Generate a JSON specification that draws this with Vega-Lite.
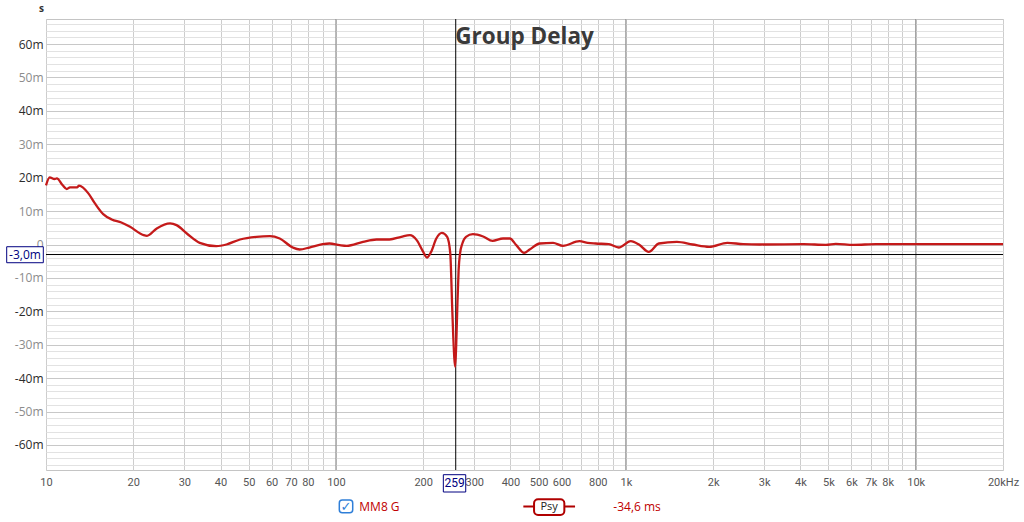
{
  "$schema": "https://vega.github.io/schema/vega-lite/v6.json",
  "width": 957,
  "height": 451,
  "autosize": {"type": "none"},
  "padding": {"left": 46, "top": 19, "right": 21, "bottom": 52},
  "background": "white",
  "title": {"text": "Group Delay", "anchor": "middle", "frame": "group", "offset": -24, "dy": 39, "baseline": "alphabetic", "font": "Open Sans", "fontSize": 22.5, "fontWeight": "bold", "color": "#3a3a3a"},
  "config": {"view": {"stroke": "#c4c4c4", "strokeWidth": 1}, "axis": {"domain": false, "ticks": false}},
  "datasets": {
    "decades": [{"freq": 100}, {"freq": 1000}, {"freq": 10000}],
    "gd": [
      {"freq": 10, "delay_ms": 17.7},
      {"freq": 10.3, "delay_ms": 20.1},
      {"freq": 10.7, "delay_ms": 19.6},
      {"freq": 10.9, "delay_ms": 19.8},
      {"freq": 11.4, "delay_ms": 17.8},
      {"freq": 11.8, "delay_ms": 16.6},
      {"freq": 12.1, "delay_ms": 17.1},
      {"freq": 12.8, "delay_ms": 17.1},
      {"freq": 13.0, "delay_ms": 17.6},
      {"freq": 14.0, "delay_ms": 15.3},
      {"freq": 14.75, "delay_ms": 12.3},
      {"freq": 15.75, "delay_ms": 9.1},
      {"freq": 16.85, "delay_ms": 7.5},
      {"freq": 18.2, "delay_ms": 6.6},
      {"freq": 19.5, "delay_ms": 5.3},
      {"freq": 21.7, "delay_ms": 2.8},
      {"freq": 22.3, "delay_ms": 2.6},
      {"freq": 24.1, "delay_ms": 4.8},
      {"freq": 26.8, "delay_ms": 6.3},
      {"freq": 28.2, "delay_ms": 5.8},
      {"freq": 30.6, "delay_ms": 3.3},
      {"freq": 33.9, "delay_ms": 0.5},
      {"freq": 38.7, "delay_ms": -0.5},
      {"freq": 41.9, "delay_ms": 0.0},
      {"freq": 46.7, "delay_ms": 1.5},
      {"freq": 53.2, "delay_ms": 2.3},
      {"freq": 59.2, "delay_ms": 2.5},
      {"freq": 64, "delay_ms": 1.8},
      {"freq": 71, "delay_ms": -0.9},
      {"freq": 75, "delay_ms": -1.5},
      {"freq": 81, "delay_ms": -0.9},
      {"freq": 90, "delay_ms": 0.1},
      {"freq": 95, "delay_ms": 0.3},
      {"freq": 103, "delay_ms": -0.2},
      {"freq": 109, "delay_ms": -0.4},
      {"freq": 124, "delay_ms": 0.8},
      {"freq": 138, "delay_ms": 1.5},
      {"freq": 153, "delay_ms": 1.5},
      {"freq": 168, "delay_ms": 2.3},
      {"freq": 180, "delay_ms": 2.8},
      {"freq": 190, "delay_ms": 1.3},
      {"freq": 200, "delay_ms": -2.2},
      {"freq": 206, "delay_ms": -3.9},
      {"freq": 213, "delay_ms": -2.2},
      {"freq": 222, "delay_ms": 1.8},
      {"freq": 232, "delay_ms": 3.5},
      {"freq": 242, "delay_ms": 2.3},
      {"freq": 248, "delay_ms": -2.6},
      {"freq": 249.5, "delay_ms": -7.7},
      {"freq": 251.5, "delay_ms": -17.6},
      {"freq": 254, "delay_ms": -27.6},
      {"freq": 258, "delay_ms": -36.6},
      {"freq": 260.5, "delay_ms": -27.6},
      {"freq": 262.5, "delay_ms": -17.6},
      {"freq": 265, "delay_ms": -7.7},
      {"freq": 268, "delay_ms": -2.7},
      {"freq": 273, "delay_ms": 0.3},
      {"freq": 281, "delay_ms": 2.3},
      {"freq": 297, "delay_ms": 3.1},
      {"freq": 322, "delay_ms": 2.4},
      {"freq": 347, "delay_ms": 1.1},
      {"freq": 377, "delay_ms": 1.8},
      {"freq": 398, "delay_ms": 1.8},
      {"freq": 419, "delay_ms": -0.2},
      {"freq": 446, "delay_ms": -2.5},
      {"freq": 466, "delay_ms": -1.5},
      {"freq": 505, "delay_ms": 0.3},
      {"freq": 561, "delay_ms": 0.5},
      {"freq": 607, "delay_ms": -0.4},
      {"freq": 692, "delay_ms": 1.0},
      {"freq": 739, "delay_ms": 0.5},
      {"freq": 787, "delay_ms": 0.3},
      {"freq": 874, "delay_ms": 0.1},
      {"freq": 945, "delay_ms": -0.9},
      {"freq": 1040, "delay_ms": 1.0},
      {"freq": 1110, "delay_ms": 0.0},
      {"freq": 1200, "delay_ms": -2.2},
      {"freq": 1300, "delay_ms": 0.3},
      {"freq": 1500, "delay_ms": 0.8},
      {"freq": 1700, "delay_ms": 0.0},
      {"freq": 1940, "delay_ms": -0.7},
      {"freq": 2240, "delay_ms": 0.5},
      {"freq": 2540, "delay_ms": 0.1},
      {"freq": 2900, "delay_ms": 0.0},
      {"freq": 4100, "delay_ms": 0.1},
      {"freq": 4900, "delay_ms": -0.1},
      {"freq": 5300, "delay_ms": 0.2},
      {"freq": 6100, "delay_ms": -0.1},
      {"freq": 7300, "delay_ms": 0.1},
      {"freq": 10000, "delay_ms": 0.1},
      {"freq": 20000, "delay_ms": 0.1}
    ]
  },
  "layer": [
    {
      "data": {"name": "decades"},
      "mark": {"type": "rule", "color": "#8c8c8c", "strokeWidth": 1},
      "encoding": {
        "x": {"field": "freq", "type": "quantitative", "scale": {"type": "log", "domain": [10, 20000], "nice": false}}
      }
    },
    {
      "data": {"values": [{}]},
      "mark": {"type": "rule", "color": "#000000", "strokeWidth": 1},
      "encoding": {
        "y": {"datum": -3, "type": "quantitative", "scale": {"domain": [-67.5, 67.5], "nice": false, "zero": false}}
      }
    },
    {
      "data": {"values": [{}]},
      "mark": {"type": "rule", "color": "#000000", "strokeWidth": 1},
      "encoding": {
        "x": {"datum": 259, "type": "quantitative", "scale": {"type": "log", "domain": [10, 20000], "nice": false}}
      }
    },
    {
      "data": {"name": "gd"},
      "mark": {"type": "line", "color": "#c41a1a", "strokeWidth": 2.3, "interpolate": "monotone"},
      "encoding": {
        "x": {
          "field": "freq", "type": "quantitative",
          "scale": {"type": "log", "domain": [10, 20000], "nice": false},
          "axis": {
            "orient": "bottom",
            "title": null,
            "tickCount": 200,
            "values": [10, 20, 30, 40, 50, 60, 70, 80, 90, 100, 200, 300, 400, 500, 600, 700, 800, 900, 1000, 2000, 3000, 4000, 5000, 6000, 7000, 8000, 9000, 10000, 20000],
            "labelExpr": "datum.value == 20000 ? '20kHz' : (datum.value == 90 || datum.value == 700 || datum.value == 900 || datum.value == 9000) ? '' : (datum.value >= 1000 ? (datum.value / 1000) + 'k' : datum.value + '')",
            "grid": true,
            "gridColor": "#cdcdcd",
            "gridWidth": 1,
            "labelOverlap": false,
            "labelFlush": false,
            "labelPadding": 6,
            "labelFont": "Roboto",
            "labelFontSize": 11,
            "labelColor": "#555555"
          }
        },
        "y": {
          "field": "delay_ms", "type": "quantitative",
          "scale": {"domain": [-67.5, 67.5], "nice": false, "zero": false},
          "axis": {
            "orient": "left",
            "title": "s",
            "titleAngle": 0,
            "titleX": -5,
            "titleY": -11,
            "titleAlign": "center",
            "titleBaseline": "middle",
            "titleFont": "Open Sans",
            "titleFontSize": 10,
            "titleFontWeight": "bold",
            "titleColor": "#333333",
            "tickCount": 200,
            "values": [-66, -64, -62, -60, -58, -56, -54, -52, -50, -48, -46, -44, -42, -40, -38, -36, -34, -32, -30, -28, -26, -24, -22, -20, -18, -16, -14, -12, -10, -8, -6, -4, -2, 0, 2, 4, 6, 8, 10, 12, 14, 16, 18, 20, 22, 24, 26, 28, 30, 32, 34, 36, 38, 40, 42, 44, 46, 48, 50, 52, 54, 56, 58, 60, 62, 64, 66],
            "labelExpr": "datum.value % 10 != 0 ? '' : (datum.value == 0 ? '0' : datum.value + 'm')",
            "grid": true,
            "gridColor": {"condition": {"test": "datum.value % 10 == 0", "value": "#c8c8c8"}, "value": "#e2e2e2"},
            "gridWidth": 1,
            "labelOverlap": false,
            "labelFlush": false,
            "labelPadding": 3,
            "labelFont": "Open Sans",
            "labelFontSize": 12,
            "labelColor": {"condition": {"test": "datum.value % 20 == 0 && datum.value != 0", "value": "#2b2b2b"}, "value": "#8c8c8c"}
          }
        }
      }
    },
    {
      "data": {"values": [{}]},
      "mark": {"type": "rect", "fill": "white", "stroke": "#000080", "strokeWidth": 1, "xOffset": -39.3, "x2Offset": -2.7, "yOffset": -7.8, "y2Offset": 8.2},
      "encoding": {
        "x": {"datum": 10, "type": "quantitative"},
        "x2": {"datum": 10},
        "y": {"datum": -3, "type": "quantitative"},
        "y2": {"datum": -3}
      }
    },
    {
      "data": {"values": [{}]},
      "mark": {"type": "text", "text": "-3,0m", "color": "#000080", "font": "Open Sans", "fontSize": 12, "align": "center", "baseline": "middle", "xOffset": -21},
      "encoding": {
        "x": {"datum": 10, "type": "quantitative"},
        "y": {"datum": -3, "type": "quantitative"}
      }
    },
    {
      "data": {"values": [{}]},
      "mark": {"type": "rect", "fill": "white", "stroke": "#000080", "strokeWidth": 1, "xOffset": -12.4, "x2Offset": 10, "yOffset": 4.7, "y2Offset": 22},
      "encoding": {
        "x": {"datum": 259, "type": "quantitative"},
        "x2": {"datum": 259},
        "y": {"datum": -67.5, "type": "quantitative"},
        "y2": {"datum": -67.5}
      }
    },
    {
      "data": {"values": [{}]},
      "mark": {"type": "text", "text": "259", "color": "#000080", "font": "Roboto", "fontSize": 12, "align": "center", "baseline": "middle", "xOffset": -1.2, "yOffset": 13.3},
      "encoding": {
        "x": {"datum": 259, "type": "quantitative"},
        "y": {"datum": -67.5, "type": "quantitative"}
      }
    },
    {
      "data": {"values": [{}]},
      "mark": {"type": "rect", "fill": "white", "stroke": "#2f7fd8", "strokeWidth": 1.5, "cornerRadius": 3, "xOffset": 3.4, "x2Offset": 16.8, "yOffset": 30, "y2Offset": 42.7},
      "encoding": {
        "x": {"datum": 100, "type": "quantitative"},
        "x2": {"datum": 100},
        "y": {"datum": -67.5, "type": "quantitative"},
        "y2": {"datum": -67.5}
      }
    },
    {
      "data": {"values": [{}]},
      "mark": {"type": "text", "text": "✓", "color": "#2f7fd8", "font": "DejaVu Sans", "fontSize": 13, "fontWeight": "bold", "align": "center", "baseline": "middle", "xOffset": 10.1, "yOffset": 36.5},
      "encoding": {
        "x": {"datum": 100, "type": "quantitative"},
        "y": {"datum": -67.5, "type": "quantitative"}
      }
    },
    {
      "data": {"values": [{}]},
      "mark": {"type": "text", "text": "MM8 G", "color": "#c00000", "font": "Open Sans", "fontSize": 12, "align": "left", "baseline": "middle", "xOffset": 23.4, "yOffset": 36.5},
      "encoding": {
        "x": {"datum": 100, "type": "quantitative"},
        "y": {"datum": -67.5, "type": "quantitative"}
      }
    },
    {
      "data": {"values": [{}]},
      "mark": {"type": "rule", "color": "#b00000", "strokeWidth": 2, "xOffset": -15.2, "x2Offset": 36.5, "yOffset": 36.5},
      "encoding": {
        "x": {"datum": 500, "type": "quantitative"},
        "x2": {"datum": 500},
        "y": {"datum": -67.5, "type": "quantitative"}
      }
    },
    {
      "data": {"values": [{}]},
      "mark": {"type": "rect", "fill": "white", "stroke": "#b00000", "strokeWidth": 2, "cornerRadius": 4, "xOffset": -4.5, "x2Offset": 25.8, "yOffset": 29.3, "y2Offset": 45},
      "encoding": {
        "x": {"datum": 500, "type": "quantitative"},
        "x2": {"datum": 500},
        "y": {"datum": -67.5, "type": "quantitative"},
        "y2": {"datum": -67.5}
      }
    },
    {
      "data": {"values": [{}]},
      "mark": {"type": "text", "text": "Psy", "color": "#222222", "font": "Open Sans", "fontSize": 11, "align": "center", "baseline": "middle", "xOffset": 10.6, "yOffset": 37},
      "encoding": {
        "x": {"datum": 500, "type": "quantitative"},
        "y": {"datum": -67.5, "type": "quantitative"}
      }
    },
    {
      "data": {"values": [{}]},
      "mark": {"type": "text", "text": "-34,6 ms", "color": "#c00000", "font": "Open Sans", "fontSize": 12, "align": "left", "baseline": "middle", "xOffset": 74.8, "yOffset": 36.5},
      "encoding": {
        "x": {"datum": 500, "type": "quantitative"},
        "y": {"datum": -67.5, "type": "quantitative"}
      }
    }
  ]
}
